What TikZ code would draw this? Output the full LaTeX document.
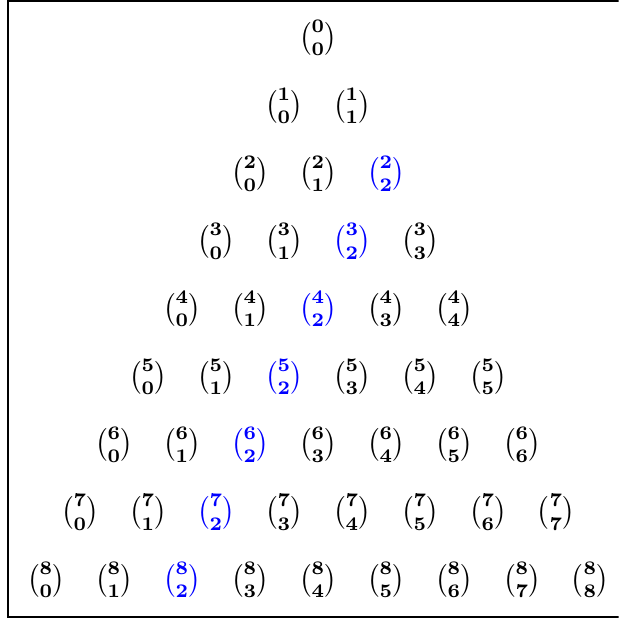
\documentclass[tikz,border=0pt]{standalone}
\usepackage{amsmath}
\usepackage{xcolor}
\usepackage{tikz}
\definecolor{pickblue}{RGB}{0, 0, 255}

\begin{document}
\begin{tikzpicture}[
    x=0.87cm, y=0.867cm,
    entry/.style={inner sep=1pt, text=#1, font=\boldmath},
    entry/.default=black,
]
    \useasboundingbox (-4.676,0.561) rectangle (4.426,-8.576);
    \clip (-4.676,0.561) rectangle (4.426,-8.576);
    \draw[line width=0.6pt] (-4.56,0.55) rectangle (5,-8.545);
    \foreach \n in {0,...,8} {
        \foreach \k in {0,...,\n} {
            \ifnum\k=2
                \node[entry=pickblue] (b-\n-\k) at ({\k-\n/2},-\n) {$\binom{\n}{\k}$};
            \else
                \node[entry] (b-\n-\k) at ({\k-\n/2},-\n) {$\binom{\n}{\k}$};
            \fi
        }
    }
\end{tikzpicture}
\end{document}
